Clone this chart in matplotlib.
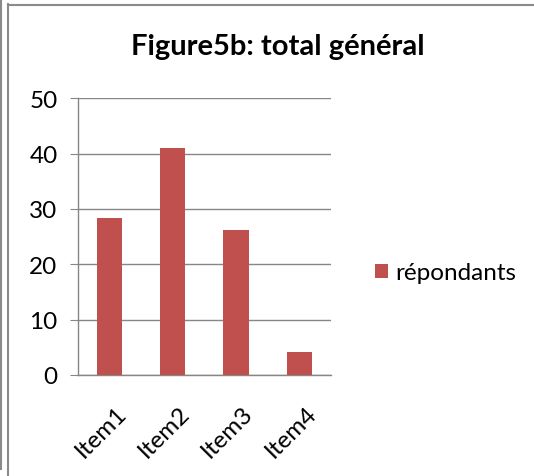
import numpy as np
import matplotlib
matplotlib.use("Agg")
from matplotlib import pyplot as plt
from matplotlib.lines import Line2D
from matplotlib.transforms import ScaledTranslation

# données
categories = ["Item1", "Item2", "Item3", "Item4"]
repondants = [28.3, 41.0, 26.2, 4.2]
yticks = [0, 10, 20, 30, 40, 50]

plt.rcParams['font.family'] = ['Lato', 'DejaVu Sans']
W, H = 534, 477
fig = plt.figure(figsize=(W / 100, H / 100), dpi=100)
fig.patch.set_facecolor("white")

grey = "#868686"
fs = 17.5
ax = fig.add_axes([77.7 / W, 1 - 376 / H, (331 - 77.7) / W, (376 - 99.3) / H])
x = np.arange(len(categories))
ax.bar(x, repondants, width=0.4, color="#C0504D", label="répondants", zorder=3)
ax.set_xlim(-0.5, len(categories) - 0.5)
ax.set_ylim(0, 50)
ax.set_yticks(yticks)
ax.set_xticks(x)
ax.set_xticklabels(categories, rotation=45, ha="right", va="top", rotation_mode="anchor")
ax.tick_params(axis="y", direction="out", length=5.5, color=grey, labelsize=fs, pad=9)
ax.tick_params(axis="x", length=0, labelsize=fs, pad=19)
for lab in ax.get_xticklabels():
    lab.set_transform(lab.get_transform() + ScaledTranslation(6 / 100, 0, fig.dpi_scale_trans))
ax.grid(axis="y", color=grey, linewidth=1, zorder=0)
for s in ["top", "right"]:
    ax.spines[s].set_visible(False)
for s in ["left", "bottom"]:
    ax.spines[s].set_color(grey)
    ax.spines[s].set_linewidth(1)

fig.text(278 / W, 1 - 55 / H, "Figure5b: total général", ha="center", va="baseline",
         fontsize=21, fontweight="bold")

fig.legend(loc="center left", bbox_to_anchor=(353 / W, 1 - 274 / H), frameon=False,
           fontsize=fs, handlelength=0.55, handleheight=0.55, handletextpad=0.3)

# cadres gris
bc = "#8a8a8a"
fig.add_artist(Line2D([1 / W, 1 / W], [1, 1 - 470 / H], color=bc, linewidth=1.5, transform=fig.transFigure))
fig.add_artist(Line2D([8 / W, 8 / W], [1 - 5 / H, 0], color=bc, linewidth=1.5, transform=fig.transFigure))
fig.add_artist(Line2D([8 / W, 1], [1 - 6 / H, 1 - 6 / H], color=bc, linewidth=1.5, transform=fig.transFigure))

fig.savefig("out.png", dpi=100)
